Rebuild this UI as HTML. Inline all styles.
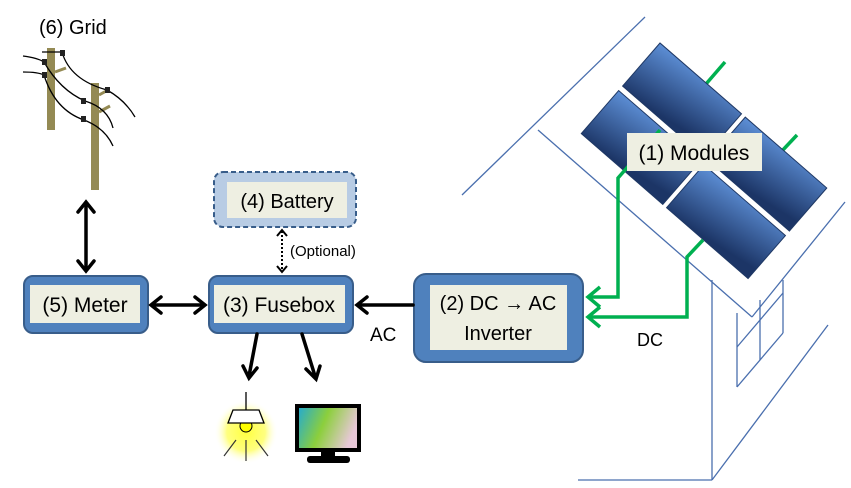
<!DOCTYPE html>
<html><head><meta charset="utf-8"><style>
html,body{margin:0;padding:0;background:#fff;}
svg{display:block;font-family:"Liberation Sans",sans-serif;}
</style></head><body>
<svg width="851" height="488" viewBox="0 0 851 488" xmlns="http://www.w3.org/2000/svg">
<defs>
<linearGradient id="pg" x1="0" y1="0" x2="0.3" y2="1">
<stop offset="0" stop-color="#5d8fd6"/><stop offset="1" stop-color="#1c3566"/>
</linearGradient>
<radialGradient id="glow"><stop offset="0" stop-color="#ffff40"/><stop offset="0.6" stop-color="#ffff80"/><stop offset="1" stop-color="#ffffff" stop-opacity="0"/></radialGradient>
<linearGradient id="scr" x1="0" y1="0" x2="1" y2="0.3">
<stop offset="0" stop-color="#1ea8d8"/><stop offset="0.5" stop-color="#8ccf3c"/><stop offset="1" stop-color="#e8c8d8"/>
</linearGradient>
</defs>

<!-- house -->
<g stroke="#4a6fae" stroke-width="1.3" fill="none">
<line x1="462" y1="195" x2="645" y2="17"/>
<line x1="538" y1="130" x2="752" y2="317"/>
<line x1="752" y1="317" x2="845" y2="202"/>
<line x1="712" y1="280" x2="712" y2="480"/>
<line x1="578" y1="480" x2="712" y2="480"/>
<line x1="712" y1="480" x2="828" y2="325"/>
<line x1="737" y1="313" x2="737" y2="387"/>
<line x1="760" y1="300" x2="760" y2="360"/>
<line x1="783" y1="280" x2="783" y2="333"/>
<line x1="737" y1="347" x2="783" y2="293"/>
<line x1="737" y1="387" x2="783" y2="333"/>
</g>

<!-- green stubs -->
<g stroke="#00b050" stroke-width="3.5" fill="none">
<line x1="706" y1="84" x2="725" y2="62"/>
<line x1="781" y1="152" x2="797" y2="135"/>
</g>

<!-- panels -->
<g transform="translate(660,43) rotate(41)" fill="url(#pg)" stroke="#1f3864" stroke-width="1">
<rect x="0" y="0" width="108" height="57"/>
<rect x="113" y="0" width="108" height="57"/>
<rect x="0" y="63" width="108" height="57"/>
<rect x="113" y="63" width="108" height="57"/>
</g>

<!-- green wires -->
<g stroke="#00b050" stroke-width="3.5" fill="none">
<polyline points="660,130 618,178 618,297 588,297"/>
<polyline points="703,240 687,257 687,317 588,317"/>
<polyline points="600,287 588,297 600,307"/>
<polyline points="600,307 588,317 600,327"/>
</g>

<rect x="627" y="133" width="135" height="38" fill="#eeefe2"/>
<text x="694" y="160" font-size="21" text-anchor="middle">(1) Modules</text>
<text x="650" y="346" font-size="18" text-anchor="middle">DC</text>

<!-- boxes -->
<rect x="414" y="274" width="169" height="88" rx="12" fill="#4f81bd" stroke="#385d8a" stroke-width="2"/>
<rect x="430" y="285" width="137" height="65" fill="#eeefe2"/>
<text x="498" y="310" font-size="20" text-anchor="middle">(2) DC → AC</text>
<text x="498" y="340" font-size="20" text-anchor="middle">Inverter</text>

<rect x="24" y="276" width="124" height="57" rx="9" fill="#4f81bd" stroke="#385d8a" stroke-width="2"/>
<rect x="30" y="285" width="110" height="38" fill="#eeefe2"/>
<text x="85" y="312" font-size="21" text-anchor="middle">(5) Meter</text>

<rect x="209" y="276" width="144" height="57" rx="9" fill="#4f81bd" stroke="#385d8a" stroke-width="2"/>
<rect x="214" y="285" width="131" height="38" fill="#eeefe2"/>
<text x="279" y="312" font-size="21" text-anchor="middle">(3) Fusebox</text>

<rect x="214" y="172" width="142" height="55" rx="9" fill="#b8cce4" stroke="#385d8a" stroke-width="2" stroke-dasharray="5,3"/>
<rect x="227" y="182" width="120" height="36" fill="#eeefe2"/>
<text x="287" y="208" font-size="20" text-anchor="middle">(4) Battery</text>

<!-- arrows -->
<g stroke="#000" stroke-width="3.5" fill="none" stroke-linecap="round">
<line x1="86" y1="203" x2="86" y2="270"/>
<polyline points="78,212 86,202 94,212"/>
<polyline points="78,261 86,271 94,261"/>
<line x1="152" y1="305" x2="204" y2="305"/>
<polyline points="161,297 151,305 161,313"/>
<polyline points="195,297 205,305 195,313"/>
<line x1="413" y1="305" x2="358" y2="305"/>
<polyline points="367,297 357,305 367,313"/>
<line x1="257" y1="334" x2="249" y2="376"/>
<polyline points="243,366 249,378 257,368"/>
<line x1="302" y1="334" x2="315" y2="376"/>
<polyline points="306,369 316,379 320,366"/>
</g>
<g stroke="#000" stroke-width="2" fill="none">
<line x1="282" y1="231" x2="282" y2="271" stroke-dasharray="2,2"/>
<polyline points="277,236 282,230 287,236"/>
<polyline points="277,266 282,272 287,266"/>
</g>
<text x="290" y="256" font-size="15">(Optional)</text>
<text x="370" y="341" font-size="19">AC</text>

<!-- lamp -->
<circle cx="246" cy="432" r="32" fill="url(#glow)"/>
<line x1="246" y1="392" x2="246" y2="410" stroke="#000" stroke-width="1.3"/>
<circle cx="246" cy="426" r="6" fill="#ffff00" stroke="#000" stroke-width="1"/>
<polygon points="233,410 259,410 264,423 228,423" fill="#fff" stroke="#000" stroke-width="1.3"/>
<g stroke="#333" stroke-width="1.2">
<line x1="246" y1="440" x2="246" y2="461"/>
<line x1="236" y1="440" x2="224" y2="456"/>
<line x1="256" y1="440" x2="268" y2="456"/>
</g>

<!-- monitor -->
<rect x="297" y="406" width="62" height="44" fill="url(#scr)" stroke="#000" stroke-width="4"/>
<rect x="321" y="450" width="14" height="6" fill="#000"/>
<rect x="307" y="456" width="43" height="7" rx="3" fill="#000"/>

<!-- grid -->
<text x="39" y="34" font-size="20">(6) Grid</text>
<g fill="#948a54">
<rect x="47" y="48" width="8" height="82"/>
<rect x="91" y="83" width="8" height="107"/>
<line x1="55" y1="72" x2="66" y2="68" stroke="#948a54" stroke-width="3"/>
<line x1="99" y1="95" x2="108" y2="90" stroke="#948a54" stroke-width="3"/>
<line x1="99" y1="112" x2="110" y2="106" stroke="#948a54" stroke-width="3"/>
</g>
<g stroke="#000" stroke-width="1.3" fill="none">
<path d="M23,56 Q38,58 44,62 Q60,90 85,101 Q108,108 113,128"/>
<path d="M23,72 Q38,72 44,75 Q55,110 84,120 Q105,128 113,146"/>
<path d="M42,52 L62,52 Q70,80 107,90 Q125,100 135,117"/>
</g>
<g fill="#222">
<rect x="42" y="59" width="5" height="6"/>
<rect x="42" y="72" width="5" height="6"/>
<rect x="60" y="50" width="5" height="6"/>
<rect x="105" y="87" width="5" height="6"/>
<rect x="81" y="98" width="5" height="6"/>
<rect x="81" y="116" width="5" height="6"/>
</g>
</svg>
</body></html>
